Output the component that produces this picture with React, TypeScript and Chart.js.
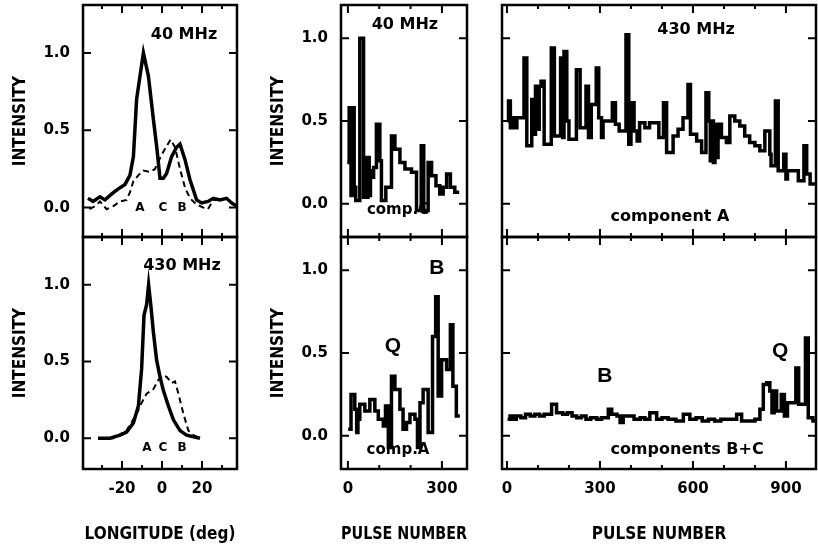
import React, { useEffect, useRef } from "react";
import { Chart, registerables } from "chart.js";

Chart.register(...registerables);

const W = 818;
const H = 546;

// ---------- Mean profiles (longitude in deg, normalised intensity) ----------
const lon40Solid = [-37, -34.5, -31, -28.5, -25, -22, -18.5, -16, -14.3, -12.7, -9.3, -6.8, -4.3, -2.7, -1, 0.7, 2.3, 4.8, 7.3, 9, 11.5, 14, 17.3, 19.8, 23, 25.7, 29, 32.3, 34.8, 37.3];
const int40Solid = [0.06, 0.04, 0.07, 0.05, 0.09, 0.12, 0.15, 0.21, 0.33, 0.7, 1.0, 0.85, 0.57, 0.4, 0.19, 0.19, 0.22, 0.33, 0.39, 0.41, 0.31, 0.18, 0.05, 0.03, 0.04, 0.06, 0.05, 0.06, 0.03, 0.01];
const lon40Dash = [-36.3, -33.5, -31, -27.7, -24.3, -21, -17.7, -16, -14.3, -11.8, -9.3, -6, -3.5, -1, 1.5, 4.3, 6.5, 9, 11.5, 14, 17.3, 20.7, 23, 25.7, 29];
const int40Dash = [-0.01, 0.01, 0.04, -0.01, 0.01, 0.04, 0.05, 0.1, 0.17, 0.21, 0.24, 0.23, 0.25, 0.32, 0.38, 0.44, 0.39, 0.25, 0.13, 0.06, 0.02, 0.0, -0.01, 0.05, 0.05];

const lon430Solid = [-32, -26, -21, -17.7, -14.3, -11.8, -10.2, -9, -7.7, -6.7, -5.7, -4.3, -2.7, -1, 0.7, 3.2, 5.7, 9, 12.3, 15.7, 19];
const int430Solid = [0, 0, 0.02, 0.04, 0.1, 0.21, 0.45, 0.8, 0.87, 1.0, 0.88, 0.69, 0.51, 0.4, 0.31, 0.21, 0.12, 0.05, 0.02, 0.01, 0];
const lon430Dash = [-32, -24.3, -17.7, -12.7, -10.2, -7.7, -4.3, -1.8, 0.7, 2.3, 4.8, 6.5, 8.2, 10.7, 13.2, 15.7, 19];
const int430Dash = [0, 0, 0.05, 0.16, 0.23, 0.29, 0.32, 0.38, 0.41, 0.4, 0.36, 0.37, 0.29, 0.16, 0.05, 0.02, 0];

// ---------- 40 MHz, comp. C (pulse number, intensity) ----------
const pulseC = [-2, 4, 10, 14, 20, 25, 38, 50, 56, 60, 64, 68, 72, 76, 82, 91, 102, 107, 121, 139, 150, 166, 182, 203, 219, 234, 242, 256, 267, 281, 293, 304, 315, 327, 341, 355];
const intC = [0.25, 0.58, 0.05, 0.58, 0.1, 0.02, 1.0, 0.04, 0.28, 0.04, 0.28, 0.05, 0.2, 0.16, 0.22, 0.48, 0.26, 0.02, 0.1, 0.41, 0.33, 0.25, 0.21, 0.19, -0.04, 0.35, -0.04, 0.25, 0.17, 0.11, 0.06, 0.1, 0.18, 0.1, 0.07, 0.07];

// ---------- 40 MHz, comp. A ----------
const pulseA = [1, 10, 22, 28, 32, 38, 54, 70, 86, 97, 113, 120, 129, 139, 150, 166, 176, 187, 198, 214, 222, 230, 240, 256, 270, 280, 288, 299, 315, 327, 335, 346, 357];
const intA = [0.04, 0.25, 0.16, 0.02, 0.1, 0.19, 0.15, 0.22, 0.15, 0.1, 0.06, 0.18, -0.07, 0.36, 0.28, 0.16, 0.04, 0.08, 0.13, 0.1, -0.07, 0.2, 0.28, 0.02, 0.6, 0.84, 0.24, 0.46, 0.4, 0.67, 0.3, 0.12, 0.12];

// ---------- 430 MHz, component A ----------
const pulseRA = [2, 5, 11, 15, 26, 32, 55, 64, 80, 88, 92, 100, 104, 110, 120, 143, 153, 173, 180, 184, 193, 200, 224, 236, 255, 263, 272, 288, 296, 305, 310, 340, 350, 362, 384, 393, 400, 410, 420, 428, 445, 460, 475, 490, 505, 515, 536, 552, 568, 584, 592, 612, 628, 642, 651, 656, 661, 666, 671, 676, 681, 692, 708, 719, 735, 751, 767, 783, 800, 816, 832, 848, 852, 866, 875, 893, 900, 905, 940, 958, 967, 978, 997];
const intRA = [0.5, 0.62, 0.46, 0.52, 0.46, 0.52, 0.88, 0.35, 0.63, 0.42, 0.71, 0.45, 0.71, 0.74, 0.36, 0.94, 0.41, 0.88, 0.4, 0.92, 0.5, 0.39, 0.81, 0.46, 0.71, 0.4, 0.6, 0.82, 0.52, 0.4, 0.5, 0.61, 0.48, 0.44, 1.02, 0.36, 0.61, 0.44, 0.38, 0.49, 0.46, 0.49, 0.49, 0.4, 0.61, 0.31, 0.41, 0.45, 0.52, 0.72, 0.42, 0.38, 0.31, 0.67, 0.5, 0.26, 0.5, 0.25, 0.48, 0.28, 0.48, 0.4, 0.37, 0.53, 0.5, 0.47, 0.41, 0.37, 0.35, 0.32, 0.44, 0.3, 0.23, 0.62, 0.2, 0.3, 0.15, 0.2, 0.14, 0.35, 0.18, 0.12, 0.12];

// ---------- 430 MHz, components B+C ----------
const pulseBC = [2, 10, 20, 30, 45, 60, 75, 90, 105, 120, 144, 160, 180, 195, 210, 225, 240, 255, 270, 290, 305, 327, 338, 355, 365, 375, 395, 410, 430, 445, 461, 483, 500, 520, 545, 569, 590, 610, 630, 650, 670, 690, 715, 741, 757, 780, 800, 816, 827, 838, 848, 855, 862, 870, 885, 895, 905, 932, 941, 963, 972, 987, 997];
const intBC = [0.1, 0.12, 0.1, 0.12, 0.11, 0.13, 0.12, 0.13, 0.12, 0.13, 0.19, 0.14, 0.13, 0.14, 0.12, 0.11, 0.12, 0.1, 0.11, 0.1, 0.11, 0.16, 0.13, 0.12, 0.08, 0.12, 0.12, 0.1, 0.11, 0.1, 0.14, 0.1, 0.11, 0.1, 0.09, 0.13, 0.1, 0.11, 0.09, 0.1, 0.09, 0.1, 0.1, 0.13, 0.09, 0.09, 0.1, 0.16, 0.31, 0.32, 0.27, 0.14, 0.27, 0.15, 0.25, 0.12, 0.2, 0.41, 0.19, 0.59, 0.11, 0.09, 0.09];

// ---------- tick labels ----------
const lonTickLabels = [-20, 0, 20];
const lonTicks = [-30, -20, -10, 0, 10, 20, 30];
const pulseTickLabelsShort = [0, 300];
const pulseTicksShort = [0, 100, 200, 300];
const pulseTickLabelsLong = [0, 300, 600, 900];
const pulseTicksLong = [0, 100, 200, 300, 400, 500, 600, 700, 800, 900];
const intensityTicks = [0, 0.5, 1.0];

const pts = (xs: number[], ys: number[]) => xs.map((x, i) => ({ x, y: ys[i] }));

const tickFont = { family: '"DejaVu Sans", sans-serif', weight: "bold" as const, size: 15 };
const titleFont = { family: '"DejaVu Sans Condensed", "DejaVu Sans", sans-serif', weight: "bold" as const, size: 17 };

const F_MHZ = 'bold 16px "DejaVu Sans"';
const F_COMP = 'bold 15px "DejaVu Sans"';
const F_ACB = 'bold 12px "DejaVu Sans"';
const F_BIG = 'bold 21px "Liberation Sans"';

type TextItem = { text: string; x: number; y: number; font: string };
type Spec = {
  area: [number, number, number, number];
  xMin: number; xMax: number; yMin: number; yMax: number;
  xLabels: number[] | null; yLabels: number[] | null;
  xTitle?: string; yTitle?: string;
  xTicks: number[]; xMajor: number[]; yTicks: number[];
  datasets: any[];
  texts: TextItem[];
};

const solid = (data: any[], w = 3) => ({ data, borderColor: "#000", borderWidth: w, pointRadius: 0, fill: false, tension: 0, borderJoinStyle: "miter" });
const dashed = (data: any[]) => ({ data, borderColor: "#000", borderWidth: 2, borderDash: [6, 4], pointRadius: 0, fill: false, tension: 0 });
const steps = (data: any[]) => ({ data, borderColor: "#000", borderWidth: 3.5, pointRadius: 0, fill: false, stepped: true, borderJoinStyle: "miter", borderCapStyle: "butt" });

const specs: Spec[] = [
  {
    area: [83, 5, 237, 237], xMin: -39.5, xMax: 37.5, yMin: -0.19, yMax: 1.31,
    xLabels: null, yLabels: intensityTicks, yTitle: "INTENSITY",
    xTicks: lonTicks, xMajor: lonTickLabels, yTicks: intensityTicks,
    datasets: [solid(pts(lon40Solid, int40Solid), 3.5), dashed(pts(lon40Dash, int40Dash))],
    texts: [
      { text: "40 MHz", x: 11, y: 1.12, font: F_MHZ },
      { text: "A", x: -11, y: 0, font: F_ACB },
      { text: "C", x: 0.5, y: 0, font: F_ACB },
      { text: "B", x: 10, y: 0, font: F_ACB },
    ],
  },
  {
    area: [83, 237, 237, 469], xMin: -39.5, xMax: 37.5, yMin: -0.2, yMax: 1.31,
    xLabels: lonTickLabels, yLabels: intensityTicks, xTitle: "LONGITUDE (deg)", yTitle: "INTENSITY",
    xTicks: lonTicks, xMajor: lonTickLabels, yTicks: intensityTicks,
    datasets: [solid(pts(lon430Solid, int430Solid), 3.5), dashed(pts(lon430Dash, int430Dash))],
    texts: [
      { text: "430 MHz", x: 10, y: 1.12, font: F_MHZ },
      { text: "A", x: -7.5, y: -0.065, font: F_ACB },
      { text: "C", x: 0.5, y: -0.065, font: F_ACB },
      { text: "B", x: 10, y: -0.065, font: F_ACB },
    ],
  },
  {
    area: [341, 5, 467, 237], xMin: -22, xMax: 380, yMin: -0.2, yMax: 1.2,
    xLabels: null, yLabels: intensityTicks, yTitle: "INTENSITY",
    xTicks: pulseTicksShort, xMajor: pulseTickLabelsShort, yTicks: intensityTicks,
    datasets: [steps(pts(pulseC, intC))],
    texts: [
      { text: "40 MHz", x: 182, y: 1.08, font: F_MHZ },
      { text: "comp.C", x: 160, y: -0.036, font: F_COMP },
    ],
  },
  {
    area: [341, 237, 467, 469], xMin: -22, xMax: 380, yMin: -0.2, yMax: 1.2,
    xLabels: pulseTickLabelsShort, yLabels: intensityTicks, xTitle: "PULSE NUMBER", yTitle: "INTENSITY",
    xTicks: pulseTicksShort, xMajor: pulseTickLabelsShort, yTicks: intensityTicks,
    datasets: [steps(pts(pulseA, intA))],
    texts: [
      { text: "Q", x: 144, y: 0.54, font: F_BIG },
      { text: "B", x: 284, y: 1.01, font: F_BIG },
      { text: "comp.A", x: 160, y: -0.085, font: F_COMP },
    ],
  },
  {
    area: [502, 5, 816, 237], xMin: -16, xMax: 997, yMin: -0.2, yMax: 1.2,
    xLabels: null, yLabels: null,
    xTicks: pulseTicksLong, xMajor: pulseTickLabelsLong, yTicks: intensityTicks,
    datasets: [steps(pts(pulseRA, intRA))],
    texts: [
      { text: "430 MHz", x: 610, y: 1.05, font: F_MHZ },
      { text: "component A", x: 526, y: -0.08, font: F_MHZ },
    ],
  },
  {
    area: [502, 237, 816, 469], xMin: -16, xMax: 997, yMin: -0.2, yMax: 1.2,
    xLabels: pulseTickLabelsLong, yLabels: null, xTitle: "PULSE NUMBER",
    xTicks: pulseTicksLong, xMajor: pulseTickLabelsLong, yTicks: intensityTicks,
    datasets: [steps(pts(pulseBC, intBC))],
    texts: [
      { text: "B", x: 316, y: 0.36, font: F_BIG },
      { text: "Q", x: 881, y: 0.51, font: F_BIG },
      { text: "components B+C", x: 581, y: -0.085, font: F_MHZ },
    ],
  },
];

function framePlugin(spec: Spec) {
  return {
    id: "frame",
    afterDatasetsDraw(chart: any) {
      const { ctx, chartArea: a } = chart;
      const xs = chart.scales.x;
      const ys = chart.scales.y;
      ctx.save();
      ctx.strokeStyle = "#000";
      ctx.lineWidth = 2;
      ctx.beginPath();
      for (const v of spec.xTicks) {
        const px = xs.getPixelForValue(v);
        const L = spec.xMajor.includes(v) ? 8 : 4;
        ctx.moveTo(px, a.bottom);
        ctx.lineTo(px, a.bottom - L);
        ctx.moveTo(px, a.top);
        ctx.lineTo(px, a.top + L);
      }
      for (const v of spec.yTicks) {
        const py = ys.getPixelForValue(v);
        ctx.moveTo(a.left, py);
        ctx.lineTo(a.left + 8, py);
        ctx.moveTo(a.right, py);
        ctx.lineTo(a.right - 8, py);
      }
      ctx.stroke();
      ctx.lineWidth = 2.5;
      ctx.strokeRect(a.left, a.top, a.right - a.left, a.bottom - a.top);
      ctx.fillStyle = "#000";
      ctx.textAlign = "center";
      ctx.textBaseline = "middle";
      for (const t of spec.texts) {
        ctx.font = t.font;
        ctx.fillText(t.text, xs.getPixelForValue(t.x), ys.getPixelForValue(t.y));
      }
      ctx.restore();
    },
  };
}

function Panel({ spec }: { spec: Spec }) {
  const ref = useRef<HTMLCanvasElement | null>(null);
  useEffect(() => {
    const [l, t, r, b] = spec.area;
    const yW = 83;
    const xH = H - b;
    const showX = !!spec.xLabels;
    const showY = !!spec.yLabels;
    const chart = new Chart(ref.current as HTMLCanvasElement, {
      type: "line",
      data: { datasets: spec.datasets },
      options: {
        responsive: false,
        animation: false,
        devicePixelRatio: 1,
        events: [],
        layout: {
          padding: {
            left: showY ? l - yW : l,
            top: t,
            right: W - r,
            bottom: showX ? 0 : H - b,
          },
        },
        plugins: { legend: { display: false }, tooltip: { enabled: false } },
        scales: {
          x: {
            type: "linear",
            min: spec.xMin,
            max: spec.xMax,
            display: showX,
            grid: { display: false, drawTicks: false },
            border: { display: false },
            afterBuildTicks: (s: any) => {
              s.ticks = (spec.xLabels || []).map((v) => ({ value: v }));
            },
            afterFit: (s: any) => {
              s.height = showX ? xH : 0;
              s.paddingLeft = 0;
              s.paddingRight = 0;
            },
            ticks: {
              padding: 11,
              font: tickFont,
              color: "#000",
              maxRotation: 0,
              autoSkip: false,
              callback: (v: any) => String(v),
            },
            title: {
              display: !!spec.xTitle,
              text: spec.xTitle || "",
              font: titleFont,
              color: "#000",
              padding: { top: 0, bottom: 1 },
            },
          },
          y: {
            type: "linear",
            min: spec.yMin,
            max: spec.yMax,
            display: showY,
            grid: { display: false, drawTicks: false },
            border: { display: false },
            afterBuildTicks: (s: any) => {
              s.ticks = (spec.yLabels || []).map((v) => ({ value: v }));
            },
            afterFit: (s: any) => {
              s.width = showY ? yW : 0;
              s.paddingTop = 0;
              s.paddingBottom = 0;
            },
            ticks: {
              padding: 13,
              font: tickFont,
              color: "#000",
              autoSkip: false,
              callback: (v: any) => Number(v).toFixed(1),
            },
            title: {
              display: !!spec.yTitle,
              text: spec.yTitle || "",
              font: titleFont,
              color: "#000",
              padding: { top: 10, bottom: 0 },
            },
          },
        },
      } as any,
      plugins: [framePlugin(spec)],
    });
    return () => chart.destroy();
  }, [spec]);
  return (
    <canvas
      ref={ref}
      width={W}
      height={H}
      style={{ position: "absolute", left: 0, top: 0, width: W, height: H }}
    />
  );
}

export default function App() {
  return (
    <div style={{ position: "fixed", left: 0, top: 0, width: W, height: H, background: "#fff", overflow: "hidden" }}>
      {specs.map((s, i) => (
        <Panel key={i} spec={s} />
      ))}
    </div>
  );
}
